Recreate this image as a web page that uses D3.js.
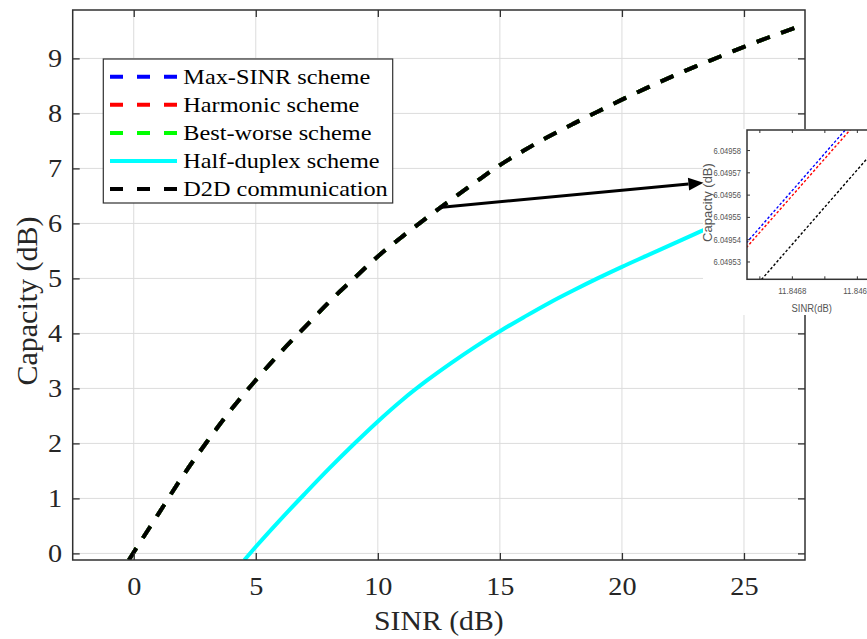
<!DOCTYPE html>
<html>
<head>
<meta charset="utf-8">
<script src="https://cdn.jsdelivr.net/npm/d3@7"></script>
<style>
  body { margin: 0; background: #fff; }
  svg { display: block; }
</style>
</head>
<body>
<svg id="chart" width="867" height="639"></svg>
<script>
// ---- data -------------------------------------------------------------
// SINR sample points (dB) shared by the full-duplex schemes and the D2D link
const sinrFull = [-0.2, 0, 1, 2, 3, 4, 5, 6, 7, 8, 9, 10, 11, 12, 13, 14, 15,
                  16, 17, 18, 19, 20, 21, 22, 23, 24, 25, 26, 27, 27.5];
const maxSinrCap   = [-0.12, 0.02, 0.71, 1.40, 2.03, 2.62, 3.15, 3.65, 4.11, 4.57, 4.99, 5.40,
                      5.76, 6.10, 6.43, 6.75, 7.06, 7.33, 7.58, 7.81, 8.03, 8.25, 8.46, 8.66,
                      8.85, 9.03, 9.21, 9.38, 9.54, 9.62];
const harmonicCap  = [-0.12, 0.02, 0.71, 1.40, 2.03, 2.62, 3.15, 3.65, 4.11, 4.57, 4.99, 5.40,
                      5.76, 6.10, 6.43, 6.75, 7.06, 7.33, 7.58, 7.81, 8.03, 8.25, 8.46, 8.66,
                      8.85, 9.03, 9.21, 9.38, 9.54, 9.62];
const bestWorseCap = [-0.12, 0.02, 0.71, 1.40, 2.03, 2.62, 3.15, 3.65, 4.11, 4.57, 4.99, 5.40,
                      5.76, 6.10, 6.43, 6.75, 7.06, 7.33, 7.58, 7.81, 8.03, 8.25, 8.46, 8.66,
                      8.85, 9.03, 9.21, 9.38, 9.54, 9.62];
const d2dCap       = [-0.12, 0.02, 0.71, 1.40, 2.03, 2.62, 3.15, 3.65, 4.11, 4.57, 4.99, 5.40,
                      5.76, 6.10, 6.43, 6.75, 7.06, 7.33, 7.58, 7.81, 8.03, 8.25, 8.46, 8.66,
                      8.85, 9.03, 9.21, 9.38, 9.54, 9.62];

// Half-duplex curve
const sinrHalf      = [4.53, 5, 6, 7, 8, 9, 10, 11, 12, 13, 14, 15, 16, 17, 18, 19, 20, 21, 22, 23, 23.4];
const halfDuplexCap = [-0.12, 0.12, 0.61, 1.08, 1.54, 1.98, 2.40, 2.79, 3.14, 3.46, 3.76, 4.04,
                       4.30, 4.55, 4.78, 5.00, 5.21, 5.41, 5.61, 5.81, 5.89];

const xTicks = [0, 5, 10, 15, 20, 25];
const yTicks = [0, 1, 2, 3, 4, 5, 6, 7, 8, 9];

const legendLabels = ["Max-SINR scheme", "Harmonic scheme", "Best-worse scheme",
                      "Half-duplex scheme", "D2D communication"];

// Zoomed view around SINR = 11.8468 dB
const insetSinr        = [11.84673, 11.84692];
const insetMaxSinrCap  = [6.0495383, 6.0496016];
const insetHarmonicCap = [6.0495362, 6.0495991];
const insetD2dCap      = [6.0495141, 6.0495776];
const insetXTicks      = [11.84675, 11.8468, 11.84685, 11.8469];
const insetXLabels     = [11.8468, 11.8469];
const insetYTicks      = [6.04953, 6.04954, 6.04955, 6.04956, 6.04957, 6.04958];

// Arrow from the curve to the zoomed view: [tail, tip] in (SINR, capacity)
const arrowSinr = [12.52, 23.34];
const arrowCap  = [6.29, 6.74];

// ---- layout -------------------------------------------------------------
const svg = d3.select("#chart");
const M = { left: 72.7, top: 10, right: 805, bottom: 560 };
const W = M.right - M.left, H = M.bottom - M.top;
const serif = "Liberation Serif, Times New Roman, serif";
const sans  = "Liberation Sans, Arial, sans-serif";
const axisColor = "#303030";
const WIDEN = 1.13;

const x = d3.scaleLinear().domain([-2.5, 27.5]).range([0, W]);
const y = d3.scaleLinear().domain([-0.12, 9.88]).range([H, 0]);

// stretch text horizontally about its anchor
function widen(sel, k) {
  sel.each(function () {
    const t = d3.select(this);
    const x0 = +t.attr("x") || 0;
    t.attr("x", x0 / k).attr("transform", `scale(${k},1)`);
  });
}

const defs = svg.append("defs");
defs.append("clipPath").attr("id", "plotClip")
  .append("rect").attr("width", W).attr("height", H);

const g = svg.append("g").attr("transform", `translate(${M.left},${M.top})`);

// grid
g.append("g").selectAll("line").data(xTicks).join("line")
  .attr("x1", d => x(d)).attr("x2", d => x(d)).attr("y1", 0).attr("y2", H)
  .attr("stroke", "#dcdcdc").attr("stroke-width", 1);
g.append("g").selectAll("line").data(yTicks).join("line")
  .attr("y1", d => y(d)).attr("y2", d => y(d)).attr("x1", 0).attr("x2", W)
  .attr("stroke", "#dcdcdc").attr("stroke-width", 1);

// curves
const plot = g.append("g").attr("clip-path", "url(#plotClip)");
const line = d3.line().x(d => x(d[0])).y(d => y(d[1])).curve(d3.curveMonotoneX);
const dash = "14,12";
const fullSeries = [
  { vals: maxSinrCap, color: "#0000ff" },
  { vals: harmonicCap, color: "#ff0000" },
  { vals: bestWorseCap, color: "#00ff00" }
];
fullSeries.forEach(s => {
  plot.append("path").datum(d3.zip(sinrFull, s.vals)).attr("d", line)
    .attr("fill", "none").attr("stroke", s.color).attr("stroke-width", 4)
    .attr("stroke-dasharray", dash);
});
plot.append("path").datum(d3.zip(sinrHalf, halfDuplexCap)).attr("d", line)
  .attr("fill", "none").attr("stroke", "#00ffff").attr("stroke-width", 4);
plot.append("path").datum(d3.zip(sinrFull, d2dCap)).attr("d", line)
  .attr("fill", "none").attr("stroke", "#000").attr("stroke-width", 4)
  .attr("stroke-dasharray", dash);

// axes (ticks inward on all four sides)
function styleAxis(a) {
  a.select(".domain").remove();
  a.selectAll(".tick line").attr("stroke", axisColor).attr("stroke-width", 1.3);
  a.selectAll("text").attr("fill", "#262626").attr("font-family", serif).attr("font-size", 25);
}
const xAxis = g.append("g").attr("transform", `translate(0,${H})`)
  .call(d3.axisBottom(x).tickValues(xTicks).tickSizeInner(-7).tickSizeOuter(0).tickPadding(17));
styleAxis(xAxis);
widen(xAxis.selectAll("text"), WIDEN);
const yAxis = g.append("g")
  .call(d3.axisLeft(y).tickValues(yTicks).tickSizeInner(-7).tickSizeOuter(0).tickPadding(10.5));
styleAxis(yAxis);
widen(yAxis.selectAll("text"), WIDEN);
styleAxis(g.append("g").call(d3.axisTop(x).tickValues(xTicks).tickSizeInner(-7).tickSizeOuter(0).tickFormat("")));
styleAxis(g.append("g").attr("transform", `translate(${W},0)`)
  .call(d3.axisRight(y).tickValues(yTicks).tickSizeInner(-7).tickSizeOuter(0).tickFormat("")));
g.append("rect").attr("width", W).attr("height", H)
  .attr("fill", "none").attr("stroke", axisColor).attr("stroke-width", 1.5);

// axis labels
const xl = svg.append("g").attr("transform", `translate(${M.left + W / 2},630)`);
widen(xl.append("text").attr("text-anchor", "middle").attr("font-family", serif)
  .attr("font-size", 27).attr("fill", "#262626").text("SINR (dB)"), 1.1);
svg.append("text").attr("transform", `translate(37,${M.top + H / 2 + 16}) rotate(-90)`)
  .attr("text-anchor", "middle").attr("font-family", serif).attr("font-size", 30)
  .attr("fill", "#262626").text("Capacity (dB)");

// legend
const lg = svg.append("g").attr("transform", "translate(103.3,59)");
lg.append("rect").attr("width", 289.4).attr("height", 144)
  .attr("fill", "#fff").attr("stroke", axisColor).attr("stroke-width", 1.2);
const legendStyle = [
  { color: "#0000ff", dash: true }, { color: "#ff0000", dash: true },
  { color: "#00ff00", dash: true }, { color: "#00ffff", dash: false },
  { color: "#000000", dash: true }
];
legendLabels.forEach((lab, i) => {
  const ry = 17.7 + i * 28.1;
  lg.append("line").attr("x1", 6.7).attr("x2", 73.7).attr("y1", ry).attr("y2", ry)
    .attr("stroke", legendStyle[i].color).attr("stroke-width", 4)
    .attr("stroke-dasharray", legendStyle[i].dash ? "13,14" : null);
  widen(lg.append("text").attr("x", 80).attr("y", ry + 7.2)
    .attr("font-family", serif).attr("font-size", 21.5).attr("fill", "#000").text(lab), WIDEN);
});

// ---- zoomed view ------------------------------------------------------
svg.append("rect").attr("x", 703).attr("y", 129).attr("width", 170).attr("height", 186)
  .attr("fill", "#fff");
const IL = 747, IT = 130, IB = 279.3, IW = 140;
const ix = d3.scaleLinear().domain([11.846731, 11.846731 + IW / 650000]).range([0, IW]);
const iy = d3.scaleLinear().domain([6.049522, 6.049589]).range([IB - IT, 0]);
defs.append("clipPath").attr("id", "insetClip")
  .append("rect").attr("width", IW).attr("height", IB - IT);
const ig = svg.append("g").attr("transform", `translate(${IL},${IT})`);
const ip = ig.append("g").attr("clip-path", "url(#insetClip)");
const iline = d3.line().x(d => ix(d[0])).y(d => iy(d[1]));
[{ v: insetMaxSinrCap, c: "#0000ff" }, { v: insetHarmonicCap, c: "#ff0000" },
 { v: insetD2dCap, c: "#000000" }].forEach(s => {
  ip.append("path").datum(d3.zip(insetSinr, s.v)).attr("d", iline)
    .attr("fill", "none").attr("stroke", s.c).attr("stroke-width", 1.4)
    .attr("stroke-dasharray", "2.6,2");
});
const ixAxis = ig.append("g").attr("transform", `translate(0,${IB - IT})`)
  .call(d3.axisBottom(ix).tickValues(insetXTicks).tickSizeInner(-3).tickSizeOuter(0).tickPadding(8)
    .tickFormat(d => insetXLabels.some(v => Math.abs(v - d) < 1e-9) ? d3.format(".4f")(d) : ""));
ig.append("g").call(d3.axisTop(ix).tickValues(insetXTicks).tickSizeInner(-3).tickSizeOuter(0).tickFormat(""));
const iyAxis = ig.append("g")
  .call(d3.axisLeft(iy).tickValues(insetYTicks).tickSizeInner(-3).tickSizeOuter(0).tickPadding(6)
    .tickFormat(d3.format(".5f")));
ig.selectAll(".domain").remove();
ig.selectAll(".tick line").attr("stroke", "#333").attr("stroke-width", 1);
ig.selectAll("text").attr("font-family", sans).attr("font-size", 9.5).attr("fill", "#555");
widen(ixAxis.selectAll("text"), 0.84);
widen(iyAxis.selectAll("text"), 0.8);
ig.append("rect").attr("width", IW).attr("height", IB - IT)
  .attr("fill", "none").attr("stroke", "#333").attr("stroke-width", 1.5);
const ixl = svg.append("g").attr("transform", "translate(811.7,311.5)");
widen(ixl.append("text").attr("text-anchor", "middle").attr("font-family", sans)
  .attr("font-size", 11.5).attr("fill", "#555").text("SINR(dB)"), 0.82);
svg.append("text").attr("transform", "translate(711.5,202.5) rotate(-90)")
  .attr("text-anchor", "middle").attr("font-family", sans).attr("font-size", 13)
  .attr("fill", "#555").text("Capacity (dB)");

// ---- arrow ------------------------------------------------------------
const ax0 = M.left + x(arrowSinr[0]), ay0 = M.top + y(arrowCap[0]);
const ax1 = M.left + x(arrowSinr[1]), ay1 = M.top + y(arrowCap[1]);
const ang = Math.atan2(ay1 - ay0, ax1 - ax0);
const headL = 15, headW = 6.5;
const bx = ax1 - headL * Math.cos(ang), by = ay1 - headL * Math.sin(ang);
svg.append("line").attr("x1", ax0).attr("y1", ay0).attr("x2", bx).attr("y2", by)
  .attr("stroke", "#000").attr("stroke-width", 3);
svg.append("polygon").attr("points", [
  [ax1, ay1],
  [bx + headW * Math.sin(ang), by - headW * Math.cos(ang)],
  [bx - headW * Math.sin(ang), by + headW * Math.cos(ang)]
].map(p => p.join(",")).join(" ")).attr("fill", "#000");
</script>
</body>
</html>
